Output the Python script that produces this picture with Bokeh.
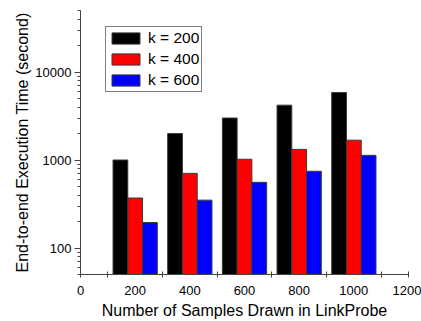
from bokeh.plotting import figure
from bokeh.models import Range1d, FixedTicker, ColumnDataSource, Legend, LegendItem, Title
from bokeh.embed import file_html
from bokeh.resources import INLINE

samples = [200, 400, 600, 800, 1000]
k200 = [1000, 2000, 3000, 4200, 5850]
k400 = [370, 705, 1020, 1320, 1680]
k600 = [195, 350, 558, 745, 1130]
series_names = ["k = 200", "k = 400", "k = 600"]
colors = ["#000000", "#ff0000", "#0000ff"]
x_ticks = [0, 200, 400, 600, 800, 1000, 1200]
y_ticks = [100, 1000, 10000]
x_title = "Number of Samples Drawn in LinkProbe"
y_title = "End-to-end Execution Time (second)"

FONT = "Liberation Sans"

p = figure(width=421, height=321, y_axis_type="log",
           x_range=Range1d(0, 1200), y_range=Range1d(50, 50000),
           output_backend="svg", toolbar_location=None,
           min_border_left=80, min_border_right=13, min_border_top=10, min_border_bottom=47)
p.outline_line_color = None
p.xgrid.visible = False
p.ygrid.visible = False

bar_w = 54
offsets = [-bar_w, 0, bar_w]
renderers = []
for vals, off, col in zip([k200, k400, k600], offsets, colors):
    src = ColumnDataSource(dict(x=[s + off for s in samples], top=vals, bottom=[1] * len(vals)))
    r = p.vbar(x="x", top="top", bottom="bottom", width=bar_w, source=src,
               fill_color=col, line_color="#3a3a3a", line_width=1)
    renderers.append(r)

legend = Legend(items=[LegendItem(label=n, renderers=[r]) for n, r in zip(series_names, renderers)],
                location=(25, 182))
legend.border_line_color = "#000000"
legend.border_line_width = 1
legend.background_fill_alpha = 1
legend.glyph_width = 35
legend.glyph_height = 14
legend.label_height = 14
legend.spacing = 3
legend.padding = 2
legend.margin = 0
legend.label_standoff = 5
legend.label_text_font = FONT
legend.label_text_font_size = "15.5px"
legend.label_text_color = "#000000"
p.add_layout(legend, "center")

minor_x = [0, 100, 300, 500, 700, 900, 1100, 1200]
p.xaxis.ticker = FixedTicker(ticks=x_ticks, minor_ticks=minor_x)
minor_y = [50, 60, 70, 80, 90] + [v * m for m in (100, 1000) for v in range(2, 10)] + [20000, 30000, 40000, 50000]
p.yaxis.ticker = FixedTicker(ticks=y_ticks, minor_ticks=minor_y)
p.yaxis.major_label_overrides = {t: str(t) for t in y_ticks}

axis_col = "#444444"
for ax in (p.xaxis[0], p.yaxis[0]):
    ax.axis_line_color = axis_col
    ax.major_tick_line_color = axis_col
    ax.minor_tick_line_color = axis_col
    ax.major_label_text_font = FONT
    ax.major_label_text_font_size = "13px"
    ax.major_label_text_color = "#000000"
    ax.axis_label_text_font = FONT
    ax.axis_label_text_font_size = "16px"
    ax.axis_label_text_font_style = "normal"
    ax.axis_label_text_color = "#000000"

p.xaxis.major_tick_in = 0
p.xaxis.major_tick_out = 0
p.xaxis.minor_tick_in = 3
p.xaxis.minor_tick_out = 3
p.xaxis.major_label_standoff = 8

xt = Title(text=x_title, align="center", text_font=FONT, text_font_size="16px",
           text_font_style="normal", text_color="#000000", standoff=5)
p.add_layout(xt, "below")

p.yaxis.major_tick_in = 0
p.yaxis.major_tick_out = 6
p.yaxis.minor_tick_in = 0
p.yaxis.minor_tick_out = 3
p.yaxis.major_label_standoff = 3
p.yaxis.axis_label = y_title
p.yaxis.axis_label_standoff = 1

open("out.html", "w").write(file_html(p, INLINE))
